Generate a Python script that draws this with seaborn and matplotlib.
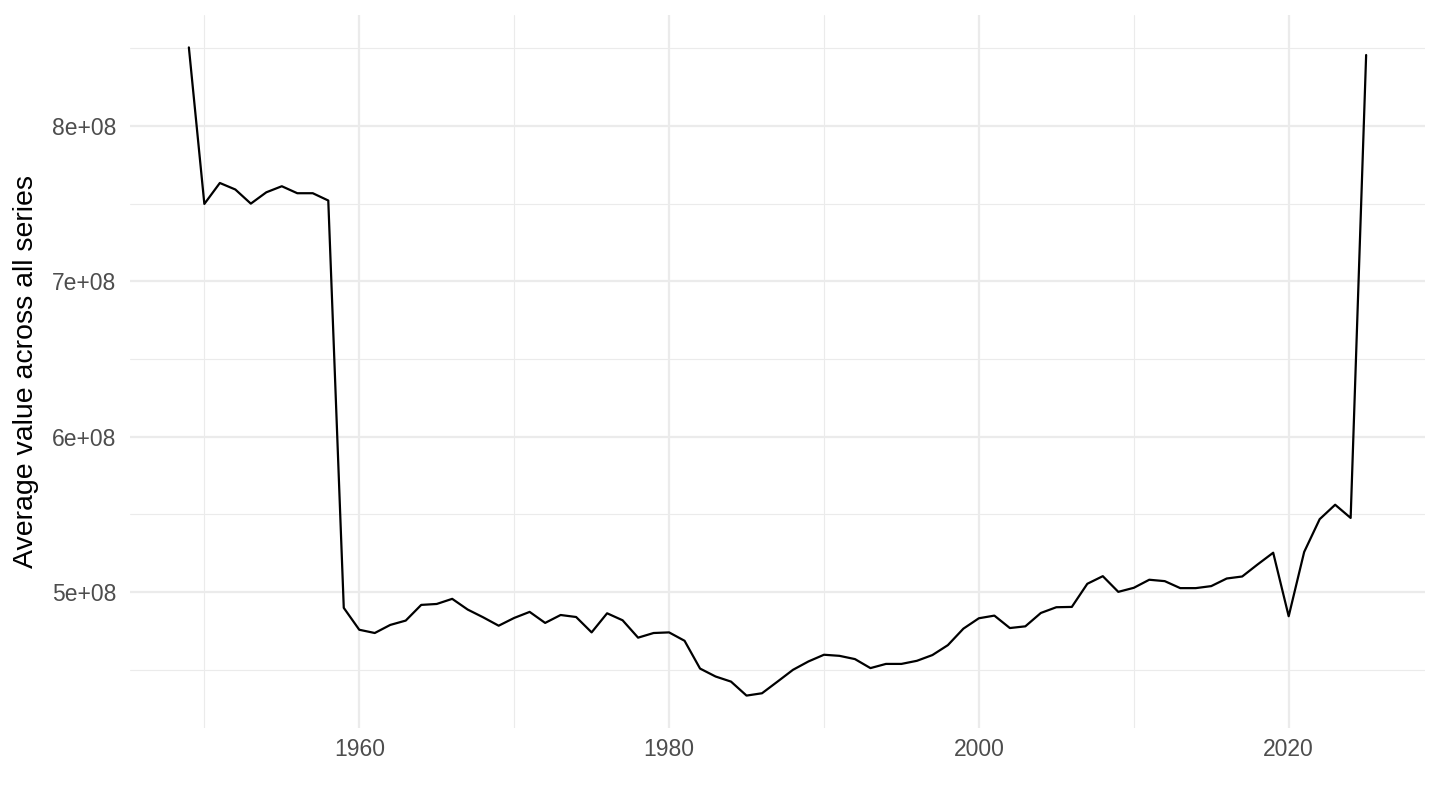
import numpy as np
import pandas as pd
import matplotlib
matplotlib.use("Agg")
import matplotlib.pyplot as plt
import matplotlib.ticker as mticker
import seaborn as sns

years = list(range(1949, 2026))
values = [
    8.506e8, 7.498e8, 7.633e8, 7.591e8, 7.500e8, 7.573e8, 7.612e8, 7.567e8, 7.567e8, 7.520e8,  # 1949-1958
    4.897e8, 4.756e8, 4.735e8, 4.787e8, 4.815e8, 4.916e8, 4.922e8, 4.955e8, 4.886e8, 4.836e8,  # 1959-1968
    4.782e8, 4.832e8, 4.871e8, 4.800e8, 4.851e8, 4.838e8, 4.739e8, 4.862e8, 4.817e8, 4.705e8,  # 1969-1978
    4.735e8, 4.739e8, 4.685e8, 4.506e8, 4.455e8, 4.422e8, 4.332e8, 4.347e8, 4.422e8, 4.498e8,  # 1979-1988
    4.552e8, 4.595e8, 4.588e8, 4.567e8, 4.509e8, 4.536e8, 4.536e8, 4.556e8, 4.593e8, 4.657e8,  # 1989-1998
    4.763e8, 4.830e8, 4.847e8, 4.767e8, 4.778e8, 4.864e8, 4.901e8, 4.903e8, 5.052e8, 5.101e8,  # 1999-2008
    5.000e8, 5.026e8, 5.078e8, 5.069e8, 5.024e8, 5.024e8, 5.037e8, 5.086e8, 5.099e8, 5.177e8,  # 2009-2018
    5.252e8, 4.843e8, 5.257e8, 5.468e8, 5.561e8, 5.476e8, 8.457e8,                             # 2019-2025
]
x_ticks = [1960, 1980, 2000, 2020]
y_ticks = [5e8, 6e8, 7e8, 8e8]
y_tick_labels = ["5e+08", "6e+08", "7e+08", "8e+08"]
y_label = "Average value across all series"

df = pd.DataFrame({"year": years, "value": values})

sns.set_theme(style="white")
plt.rcParams["font.family"] = ["Liberation Sans", "DejaVu Sans"]

fig = plt.figure(figsize=(14.4, 8.1), dpi=100)
ax = fig.add_axes([130 / 1440, 1 - 728 / 810, (1425 - 130) / 1440, (728 - 15) / 810])

sns.lineplot(data=df, x="year", y="value", color="black", linewidth=1.6, ax=ax, zorder=3)

xmin, xmax = min(years), max(years)
xr = xmax - xmin
ax.set_xlim(xmin - 0.05 * xr, xmax + 0.05 * xr)
ymin, ymax = min(values), max(values)
yr = ymax - ymin
ax.set_ylim(ymin - 0.05 * yr, ymax + 0.05 * yr)

ax.set_xticks(x_ticks)
ax.set_xticklabels([str(t) for t in x_ticks])
ax.xaxis.set_minor_locator(mticker.FixedLocator([1950, 1970, 1990, 2010]))
ax.set_yticks(y_ticks)
ax.set_yticklabels(y_tick_labels)
ax.yaxis.set_minor_locator(mticker.FixedLocator([4.5e8, 5.5e8, 6.5e8, 7.5e8, 8.5e8]))

ax.grid(which="major", color="#EBEBEB", linewidth=1.6)
ax.grid(which="minor", color="#EBEBEB", linewidth=0.8)
ax.set_axisbelow(True)
for s in ax.spines.values():
    s.set_visible(False)
ax.tick_params(which="both", length=0)
ax.tick_params(axis="both", labelsize=16.5, labelcolor="#4D4D4D")
ax.tick_params(axis="x", pad=7)
ax.tick_params(axis="y", pad=10)

ax.set_xlabel("")
ax.set_ylabel(y_label, fontsize=20.5, color="black")
ax.yaxis.set_label_coords(-0.0705, 0.5)

fig.savefig("out.png", dpi=100)
